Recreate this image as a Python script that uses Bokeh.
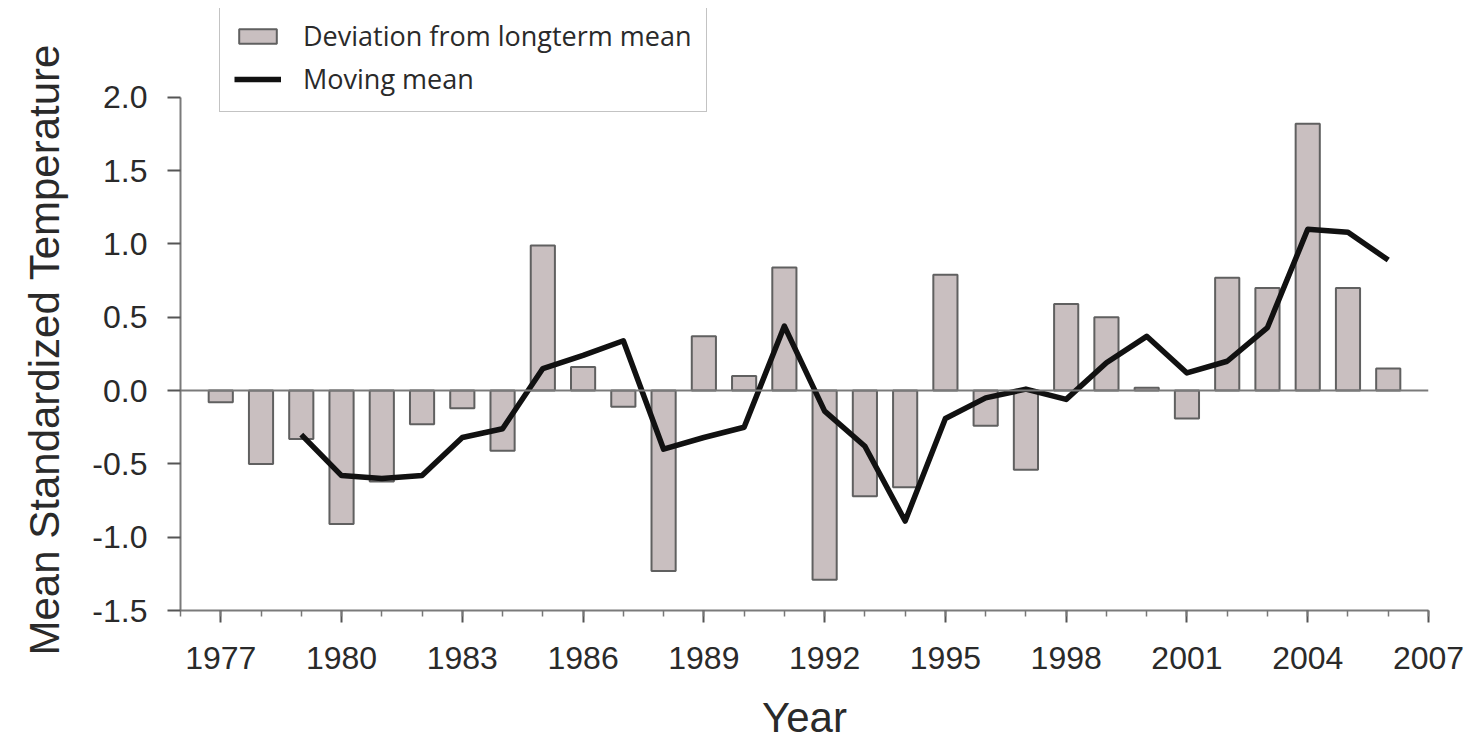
from bokeh.plotting import figure
from bokeh.models import Range1d, FixedTicker, Span, Legend, LegendItem, CustomJSTickFormatter, Title
from bokeh.embed import file_html
from bokeh.resources import INLINE

years = list(range(1977, 2007))
deviation = [-0.08, -0.50, -0.33, -0.91, -0.62, -0.23, -0.12, -0.41, 0.99, 0.16,
             -0.11, -1.23, 0.37, 0.10, 0.84, -1.29, -0.72, -0.66, 0.79, -0.24,
             -0.54, 0.59, 0.50, 0.02, -0.19, 0.77, 0.70, 1.82, 0.70, 0.15]

mm_years = list(range(1979, 2007))
moving_mean = [-0.30, -0.58, -0.60, -0.58, -0.32, -0.26, 0.15, 0.24, 0.34, -0.40,
               -0.32, -0.25, 0.44, -0.14, -0.38, -0.89, -0.19, -0.05, 0.01, -0.06,
               0.19, 0.37, 0.12, 0.20, 0.43, 1.10, 1.08, 0.89]

x_ticks = list(range(1977, 2008, 3))
x_minor = list(range(1976, 2008))
y_ticks = [-1.5, -1.0, -0.5, 0.0, 0.5, 1.0, 1.5, 2.0]

FONT = "Liberation Sans"
AXIS_COL = "#7a7a7a"
TEXT_COL = "#2a2a2a"

# frame extends above 2.0 so the legend (which overlaps the top margin) is not clipped
p = figure(width=1466, height=752, output_backend="svg", toolbar_location=None,
           x_range=Range1d(1976, 2007), y_range=Range1d(-1.5, 2.606),
           min_border_left=179, min_border_right=38, min_border_top=8, min_border_bottom=142)
p.outline_line_color = None
p.xgrid.grid_line_color = None
p.ygrid.grid_line_color = None
p.background_fill_color = "white"

bars = p.vbar(x=years, top=deviation, bottom=0, width=0.6,
              fill_color="#c9bfc0", line_color="#606060", line_width=2)
p.add_layout(Span(location=0, dimension="width", line_color=AXIS_COL, line_width=2))
line = p.line(mm_years, moving_mean, line_color="#111111", line_width=5.5, line_join="round")

for ax in (p.xaxis[0], p.yaxis[0]):
    ax.axis_line_color = AXIS_COL
    ax.axis_line_width = 2
    ax.major_tick_line_color = "#555555"
    ax.major_tick_line_width = 2
    ax.minor_tick_line_color = "#777777"
    ax.minor_tick_line_width = 1.5
    ax.major_tick_in = 0
    ax.minor_tick_in = 0
    ax.major_label_text_font = FONT
    ax.major_label_text_font_size = "32px"
    ax.major_label_text_color = TEXT_COL
    ax.axis_label_text_font = FONT
    ax.axis_label_text_font_style = "normal"
    ax.axis_label_text_color = TEXT_COL

p.xaxis.ticker = FixedTicker(ticks=x_ticks, minor_ticks=x_minor)
p.xaxis.major_tick_out = 12
p.xaxis.minor_tick_out = 6
p.xaxis.major_label_standoff = 24
p.xaxis.axis_label = "Year"
p.xaxis.axis_label_text_font_size = "42px"
p.xaxis.axis_label_standoff = 22

p.yaxis.ticker = FixedTicker(ticks=y_ticks, minor_ticks=[])
p.yaxis.bounds = (-1.5, 2.0)
p.yaxis.formatter = CustomJSTickFormatter(code="return tick.toFixed(1);")
p.yaxis.major_tick_out = 13
p.yaxis.minor_tick_out = 0
p.yaxis.major_label_standoff = 20

# y-axis title placed in the left panel, starting level with the reference label
ytitle = Title(text="Mean Standardized Temperature", align="left", offset=-45,
               vertical_align="top", standoff=40,
               text_font=FONT, text_font_size="42px", text_font_style="normal",
               text_color=TEXT_COL)
p.add_layout(ytitle, "left")

legend = Legend(items=[LegendItem(label="Deviation from longterm mean", renderers=[bars]),
                       LegendItem(label="Moving mean", renderers=[line])],
                location=(39, 498))
legend.label_text_font = "Open Sans"
legend.label_text_font_size = "27px"
legend.label_text_color = TEXT_COL
legend.glyph_width = 47
legend.glyph_height = 18
legend.label_standoff = 22
legend.spacing = 6
legend.padding = 14
legend.margin = 0
legend.border_line_color = "#888888"
legend.border_line_width = 1.5
legend.background_fill_alpha = 1.0
p.add_layout(legend, "center")

open("out.html", "w").write(file_html(p, INLINE))
